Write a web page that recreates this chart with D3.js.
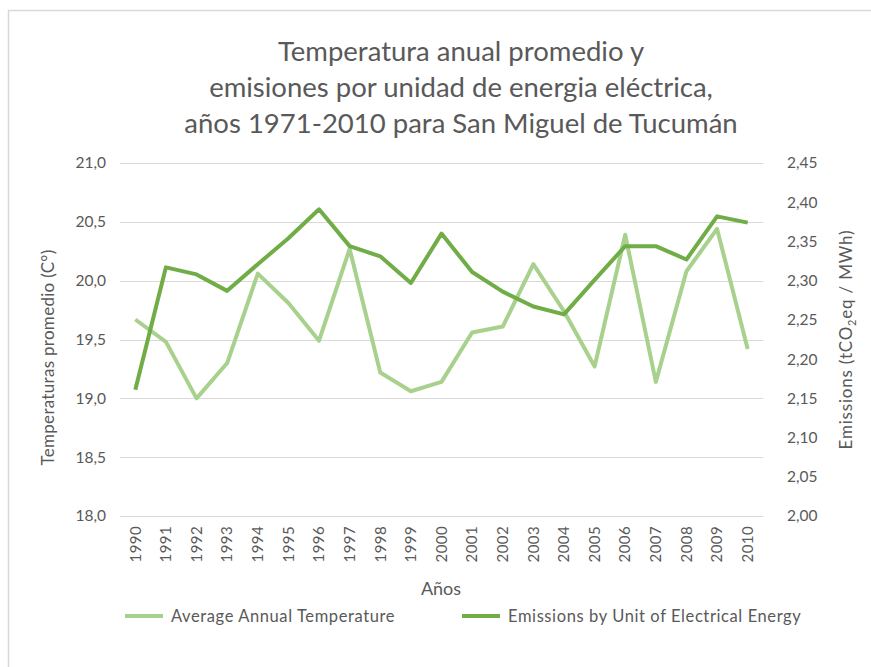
<!DOCTYPE html>
<html>
<head>
<meta charset="utf-8">
<script src="https://cdn.jsdelivr.net/npm/d3@7"></script>
<style>
  body { margin: 0; background: #fff; }
  svg { display: block; }
</style>
</head>
<body>
<svg id="chart"></svg>
<script>
const years = [1990, 1991, 1992, 1993, 1994, 1995, 1996, 1997, 1998, 1999, 2000,
  2001, 2002, 2003, 2004, 2005, 2006, 2007, 2008, 2009, 2010];
const temperature = [19.67, 19.48, 19.00, 19.30, 20.06, 19.81, 19.49, 20.27, 19.22, 19.06, 19.14,
  19.56, 19.61, 20.14, 19.74, 19.27, 20.39, 19.14, 20.08, 20.44, 19.42];
const emissions = [2.161, 2.317, 2.308, 2.287, 2.321, 2.354, 2.391, 2.344, 2.331, 2.297, 2.360,
  2.311, 2.286, 2.267, 2.257, 2.301, 2.344, 2.344, 2.327, 2.382, 2.374];
const leftTicks = [18.0, 18.5, 19.0, 19.5, 20.0, 20.5, 21.0];
const rightTicks = [2.00, 2.05, 2.10, 2.15, 2.20, 2.25, 2.30, 2.35, 2.40, 2.45];
const titleLines = ["Temperatura anual promedio y", "emisiones por unidad de energia eléctrica,", "años 1971-2010 para San Miguel de Tucumán"];

const width = 871, height = 667;
const margin = { top: 163, right: 108, bottom: 151, left: 120 };
const font = "Lato, 'Open Sans', sans-serif";
const textColor = "#595959";
const lightGreen = "#a9d18e";
const darkGreen = "#70ad47";

const svg = d3.select("#chart").attr("width", width).attr("height", height);

// outer frame (only top and left edges visible)
svg.append("path")
  .attr("d", `M8.5,${height} V10.5 H${width}`)
  .attr("fill", "none")
  .attr("stroke", "#d9d9d9")
  .attr("stroke-width", 1.5);

const x = d3.scaleBand()
  .domain(years)
  .range([margin.left, width - margin.right]);

const yLeft = d3.scaleLinear()
  .domain([18, 21])
  .range([height - margin.bottom, margin.top]);

const yRight = d3.scaleLinear()
  .domain([2.0, 2.45])
  .range([height - margin.bottom, margin.top]);

// gridlines
svg.append("g")
  .selectAll("line")
  .data(leftTicks)
  .join("line")
  .attr("x1", margin.left)
  .attr("x2", width - margin.right)
  .attr("y1", d => Math.round(yLeft(d)) + 0.5)
  .attr("y2", d => Math.round(yLeft(d)) + 0.5)
  .attr("stroke", "#d9d9d9")
  .attr("stroke-width", 1);

const leftAxis = svg.append("g")
  .attr("transform", `translate(${margin.left},0)`)
  .call(d3.axisLeft(yLeft).tickValues(leftTicks).tickSize(0).tickPadding(14)
    .tickFormat(d => d3.format(".1f")(d).replace(".", ",")));

const rightAxis = svg.append("g")
  .attr("transform", `translate(${width - margin.right},0)`)
  .call(d3.axisRight(yRight).tickValues(rightTicks).tickSize(0).tickPadding(24)
    .tickFormat(d => d3.format(".2f")(d).replace(".", ",")));

const xAxis = svg.append("g")
  .attr("transform", `translate(0,${height - margin.bottom})`)
  .call(d3.axisBottom(x).tickSize(0).tickPadding(0));

xAxis.selectAll("text")
  .attr("transform", "rotate(-90)")
  .attr("text-anchor", "end")
  .attr("x", -10)
  .attr("y", 0)
  .attr("dy", "0.35em");

[leftAxis, rightAxis, xAxis].forEach(g => {
  g.select(".domain").remove();
  g.selectAll("text")
    .attr("fill", textColor)
    .style("font-family", font)
    .style("font-size", "15.5px");
});
xAxis.selectAll("text").style("font-size", "15px").style("letter-spacing", "0.4px");

// lines
const cx = d => x(d) + x.bandwidth() / 2;

svg.append("path")
  .datum(years)
  .attr("fill", "none")
  .attr("stroke", lightGreen)
  .attr("stroke-width", 4)
  .attr("stroke-linejoin", "round")
  .attr("d", d3.line().x(d => cx(d)).y((d, i) => yLeft(temperature[i])));

svg.append("path")
  .datum(years)
  .attr("fill", "none")
  .attr("stroke", darkGreen)
  .attr("stroke-width", 4)
  .attr("stroke-linejoin", "round")
  .attr("d", d3.line().x(d => cx(d)).y((d, i) => yRight(emissions[i])));

// title
svg.append("g")
  .selectAll("text")
  .data(titleLines)
  .join("text")
  .attr("x", 461)
  .attr("y", (d, i) => 61 + i * 36)
  .attr("text-anchor", "middle")
  .attr("fill", textColor)
  .style("font-family", font)
  .style("font-size", "27.5px")
  .text(d => d);

// axis titles
svg.append("text")
  .attr("transform", `translate(54,${(yLeft(18) + yLeft(21)) / 2 + 18}) rotate(-90)`)
  .attr("text-anchor", "middle")
  .attr("fill", textColor)
  .style("font-family", font)
  .style("font-size", "17px")
  .style("letter-spacing", "0.3px")
  .text("Temperaturas promedio (C°)");

const rt = svg.append("text")
  .attr("transform", `translate(852,${(yRight(2) + yRight(2.45)) / 2}) rotate(-90)`)
  .attr("text-anchor", "middle")
  .attr("fill", textColor)
  .style("font-family", font)
  .style("font-size", "17px")
  .style("letter-spacing", "0.8px");
rt.append("tspan").text("Emissions (tCO");
rt.append("tspan").attr("dy", 4).style("font-size", "11px").text("2");
rt.append("tspan").attr("dy", -4).text("eq / MWh)");

svg.append("text")
  .attr("x", 441)
  .attr("y", 595)
  .attr("text-anchor", "middle")
  .attr("fill", textColor)
  .style("font-family", font)
  .style("font-size", "18px")
  .text("Años");

// legend
const legendItems = [
  { label: "Average Annual Temperature", color: lightGreen, x: 125 },
  { label: "Emissions by Unit of Electrical Energy", color: darkGreen, x: 462 }
];
const legend = svg.append("g")
  .selectAll("g")
  .data(legendItems)
  .join("g")
  .attr("transform", d => `translate(${d.x},616)`);
legend.append("line")
  .attr("x1", 0).attr("x2", 38)
  .attr("stroke", d => d.color)
  .attr("stroke-width", 4);
legend.append("text")
  .attr("x", 46)
  .attr("dy", "0.35em")
  .attr("fill", textColor)
  .style("font-family", font)
  .style("font-size", "16.5px")
  .style("letter-spacing", "0.6px")
  .text(d => d.label);
</script>
</body>
</html>
